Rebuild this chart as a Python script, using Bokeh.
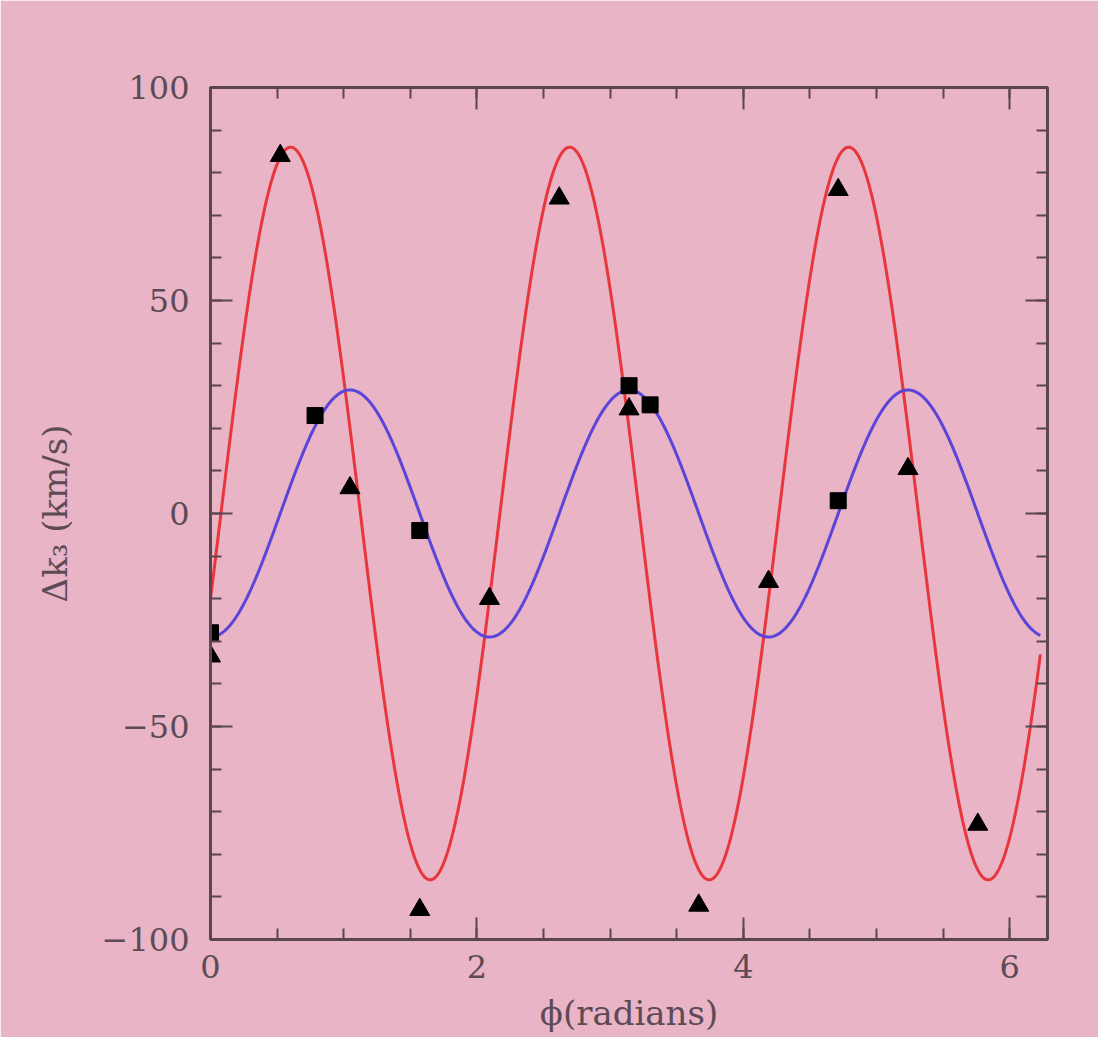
import numpy as np
from bokeh.plotting import figure
from bokeh.models import LinearAxis, SingleIntervalTicker, Range1d
from bokeh.embed import file_html
from bokeh.resources import INLINE

# ---- data ----
# triangles (measured points)
tri_phi = [0.0, 0.524, 1.047, 1.571, 2.094, 2.618, 3.142, 3.665, 4.189, 4.712, 5.236, 5.760]
tri_dk = [-33.5, 84.0, 6.0, -93.0, -20.0, 74.0, 24.5, -92.0, -16.0, 76.0, 10.5, -73.0]
# squares (measured points)
sq_phi = [0.0, 0.785, 1.571, 3.142, 3.30, 4.712]
sq_dk = [-28.0, 23.0, -4.0, 30.0, 25.5, 3.0]
# fitted model curves: dk = A * sin(3*phi + delta)
red_amp, red_delta = [86.0], [-0.235]
blue_amp, blue_delta = [29.0], [-1.5708]
harmonic = [3]
phi_end = [6.23]

x_ticks = [0, 2, 4, 6]
y_ticks = [-100, -50, 0, 50, 100]

PINK = "#e8b4c6"
PURPLE = "#4b3a6b"
FRAME = "#5b4650"
TXT = "#5e4a55"

phi = np.linspace(0, phi_end[0], 600)
red_curve = red_amp[0] * np.sin(harmonic[0] * phi + red_delta[0])
blue_curve = blue_amp[0] * np.sin(harmonic[0] * phi + blue_delta[0])

p = figure(width=1098, height=1037, output_backend="svg", toolbar_location=None,
           x_range=Range1d(0, 2 * np.pi), y_range=Range1d(-100, 100),
           background_fill_color=PINK, border_fill_color=PINK,
           min_border_left=210, min_border_right=51, min_border_top=87, min_border_bottom=98)
p.grid.visible = False
p.outline_line_color = FRAME
p.outline_line_width = 3

p.line(phi, red_curve, line_color="#e8363c", line_width=3)
p.line(phi, blue_curve, line_color="#5b44d8", line_width=3)
p.scatter(tri_phi, tri_dk, marker="triangle", size=20, color="black")
p.scatter(sq_phi, sq_dk, marker="square", size=16, color="black")

p.xaxis.ticker = SingleIntervalTicker(interval=2, num_minor_ticks=4)
p.yaxis.ticker = SingleIntervalTicker(interval=50, num_minor_ticks=5)

p.add_layout(LinearAxis(ticker=SingleIntervalTicker(interval=2, num_minor_ticks=4),
                        major_label_overrides={t: "" for t in x_ticks}), "above")
p.add_layout(LinearAxis(ticker=SingleIntervalTicker(interval=50, num_minor_ticks=5),
                        major_label_overrides={t: "" for t in y_ticks}), "right")

for ax in p.axis:
    ax.axis_line_color = FRAME
    ax.axis_line_width = 3
    ax.major_tick_line_color = FRAME
    ax.minor_tick_line_color = FRAME
    ax.major_tick_line_width = 2
    ax.minor_tick_line_width = 2
    ax.major_tick_in = 22
    ax.major_tick_out = 0
    ax.minor_tick_in = 11
    ax.minor_tick_out = 0
    ax.major_label_text_font = "DejaVu Serif"
    ax.major_label_text_font_size = "32px"
    ax.major_label_text_color = TXT
    ax.axis_label_text_font = "DejaVu Serif"
    ax.axis_label_text_font_size = "34px"
    ax.axis_label_text_font_style = "normal"
    ax.axis_label_text_color = TXT

p.above[0].major_label_standoff = 0
p.right[0].major_label_standoff = 0

p.below[0].major_label_standoff = 15
p.below[0].axis_label = "\u03d5(radians)"
p.below[0].axis_label_standoff = 12
p.left[0].major_label_standoff = 21
p.left[0].axis_label = "\u0394k\u2083 (km/s)"
p.left[0].axis_label_standoff = 24
p.left[0].major_label_overrides = {-100: "\u2212100", -50: "\u221250"}

bg = ("background: linear-gradient(%s,%s) left top / 100%% 5px no-repeat, "
      "linear-gradient(%s,%s) left top / 15px 100%% no-repeat, %s"
      % (PURPLE, PURPLE, PURPLE, PURPLE, PINK))
html = file_html(p, INLINE)
html = html.replace("<body>", '<body style="%s">' % bg, 1)
open("out.html", "w").write(html)
